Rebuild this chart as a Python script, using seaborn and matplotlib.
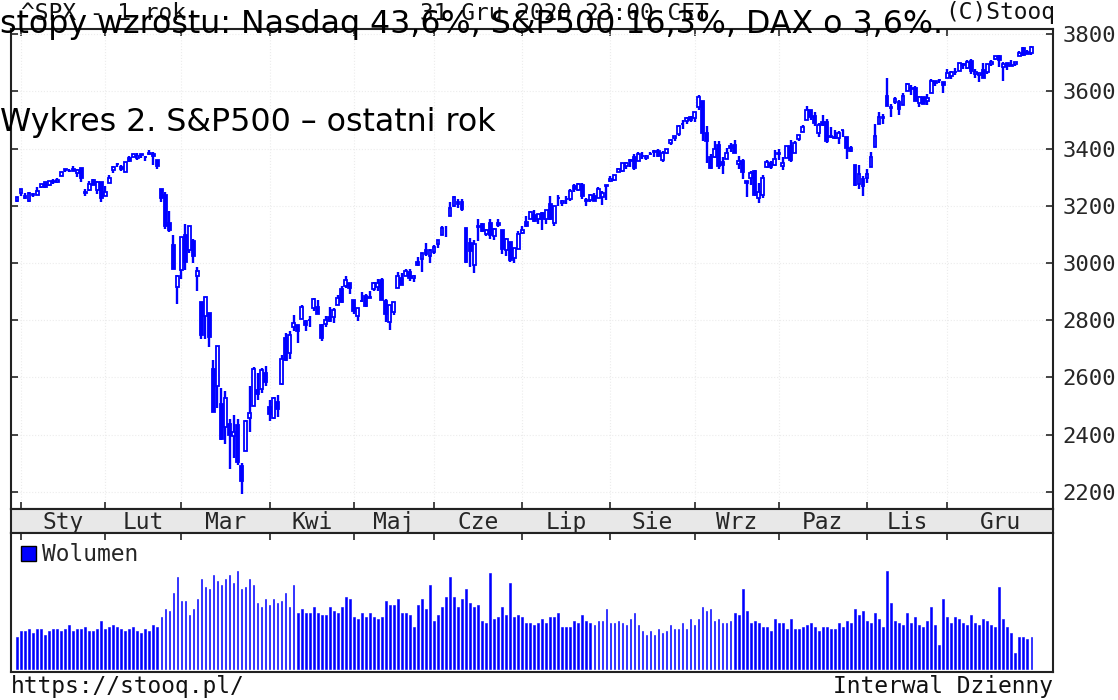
import numpy as np
import pandas as pd
import matplotlib
matplotlib.use("Agg")
import matplotlib.pyplot as plt
from matplotlib.patches import Patch
import seaborn as sns

# ^SPX daily sessions, 31 Dec 2019 .. 31 Dec 2020 (one row per month in each list)
sessions_per_month = [1, 21, 19, 22, 21, 20, 22, 22, 21, 21, 22, 20, 22]
month_labels = ["Sty", "Lut", "Mar", "Kwi", "Maj", "Cze", "Lip", "Sie", "Wrz", "Paz", "Lis", "Gru"]
price_ticks = [2200, 2400, 2600, 2800, 3000, 3200, 3400, 3600, 3800]

opens = [
    3215.18,
    3244.67, 3226.36, 3217.55, 3241.86, 3238.59, 3266.03, 3281.81, 3271.13, 3285.35, 3282.27, 3302.97, 3323.66, 3321.03, 3330.02, 3315.77, 3333.10, 3247.16, 3255.35, 3289.46, 3256.45, 3282.33,
    3235.66, 3280.61, 3324.91, 3344.92, 3335.54, 3318.28, 3365.87, 3370.50, 3365.90, 3378.08, 3369.04, 3380.39, 3380.45, 3360.50, 3257.61, 3238.94, 3139.90, 3062.54, 2916.90,
    2974.28, 3096.46, 3045.75, 3075.70, 2954.20, 2863.89, 2813.48, 2825.60, 2630.86, 2569.99, 2508.59, 2425.66, 2436.50, 2393.48, 2431.94, 2290.71, 2344.44, 2457.77, 2501.29, 2555.87, 2558.98, 2614.69,
    2498.08, 2458.54, 2514.92, 2578.28, 2738.65, 2685.00, 2776.99, 2782.46, 2805.10, 2795.64, 2799.34, 2842.43, 2845.62, 2784.81, 2787.89, 2810.42, 2812.64, 2854.65, 2909.96, 2918.46, 2930.91,
    2869.09, 2815.01, 2868.88, 2883.14, 2878.26, 2908.83, 2915.46, 2939.50, 2865.86, 2794.54, 2829.95, 2913.86, 2948.59, 2953.63, 2969.95, 2948.05, 3004.08, 3015.65, 3046.61, 3025.17,
    3038.78, 3064.78, 3098.90, 3111.56, 3163.84, 3199.92, 3213.32, 3213.42, 3123.53, 3071.04, 2993.76, 3131.00, 3136.13, 3101.64, 3140.29, 3094.42, 3138.70, 3114.40, 3046.60, 3073.20, 3018.59, 3050.20,
    3105.92, 3143.64, 3155.29, 3166.44, 3153.07, 3176.17, 3152.47, 3205.08, 3141.11, 3225.98, 3208.36, 3224.21, 3224.29, 3268.52, 3254.86, 3271.64, 3218.58, 3219.84, 3234.27, 3227.22, 3231.76, 3270.45,
    3288.26, 3289.92, 3317.37, 3323.17, 3340.05, 3356.04, 3370.34, 3355.46, 3372.95, 3368.66, 3380.86, 3387.04, 3392.51, 3360.48, 3386.01, 3418.09, 3435.95, 3449.97, 3485.14, 3494.69, 3509.73,
    3507.44, 3543.76, 3564.74, 3453.60, 3371.88, 3369.82, 3412.56, 3352.70, 3363.56, 3407.73, 3411.23, 3346.86, 3357.38, 3285.57, 3295.75, 3320.11, 3226.14, 3236.66, 3333.90, 3350.92, 3341.21,
    3385.87, 3338.94, 3367.27, 3408.74, 3384.56, 3434.28, 3459.67, 3500.02, 3534.01, 3515.47, 3453.72, 3493.50, 3493.66, 3439.38, 3439.91, 3438.50, 3464.90, 3441.42, 3403.15, 3342.48, 3277.17, 3293.59,
    3296.20, 3336.25, 3406.46, 3485.74, 3508.34, 3583.04, 3543.26, 3563.22, 3562.67, 3552.57, 3600.16, 3610.31, 3612.09, 3559.41, 3579.31, 3566.82, 3594.52, 3635.50, 3638.55, 3634.18,
    3645.87, 3653.78, 3668.28, 3670.94, 3694.73, 3683.05, 3705.98, 3659.13, 3656.08, 3675.27, 3666.41, 3696.25, 3713.65, 3722.39, 3684.28, 3698.08, 3693.42, 3694.03, 3723.03, 3750.01, 3736.19, 3733.27,
]

highs = [
    3231.72,
    3258.14, 3246.15, 3246.84, 3244.91, 3267.07, 3275.58, 3282.99, 3288.13, 3294.25, 3298.66, 3317.11, 3329.88, 3329.79, 3337.77, 3326.88, 3333.18, 3258.85, 3285.78, 3293.47, 3285.91, 3282.33,
    3268.44, 3306.92, 3337.58, 3347.96, 3341.42, 3352.26, 3375.63, 3381.47, 3385.09, 3380.69, 3375.01, 3393.52, 3389.15, 3360.76, 3259.81, 3246.99, 3182.51, 3097.07, 2959.72,
    3090.96, 3136.72, 3130.97, 3083.04, 2985.93, 2863.89, 2882.59, 2825.60, 2660.95, 2711.33, 2562.98, 2553.93, 2453.57, 2466.97, 2453.01, 2300.73, 2449.71, 2571.42, 2637.01, 2615.91, 2631.80, 2641.39,
    2522.75, 2533.22, 2538.18, 2676.85, 2756.89, 2760.75, 2818.57, 2782.46, 2851.85, 2801.88, 2815.10, 2879.22, 2868.98, 2785.54, 2815.10, 2844.90, 2842.71, 2887.72, 2921.15, 2954.86, 2930.91,
    2869.09, 2844.24, 2898.23, 2891.11, 2901.92, 2932.16, 2944.25, 2945.82, 2874.14, 2852.80, 2865.01, 2968.09, 2964.21, 2980.29, 2978.50, 2956.76, 3021.72, 3036.25, 3068.67, 3049.17,
    3062.18, 3081.07, 3130.94, 3128.91, 3211.72, 3233.13, 3222.71, 3223.27, 3123.53, 3088.42, 3079.76, 3153.45, 3141.16, 3120.00, 3155.53, 3120.92, 3154.90, 3115.01, 3086.25, 3073.73, 3053.89, 3111.51,
    3128.44, 3165.81, 3182.59, 3184.15, 3171.80, 3179.78, 3186.82, 3235.32, 3200.95, 3238.28, 3220.39, 3233.52, 3258.61, 3277.29, 3279.32, 3279.99, 3227.26, 3241.43, 3243.72, 3264.74, 3250.92, 3272.17,
    3302.73, 3306.84, 3330.77, 3351.03, 3352.54, 3363.29, 3381.01, 3387.89, 3387.24, 3378.51, 3387.59, 3395.06, 3399.54, 3390.80, 3399.96, 3432.09, 3444.21, 3481.07, 3501.38, 3509.23, 3514.77,
    3528.03, 3588.11, 3564.85, 3479.15, 3379.97, 3424.77, 3425.55, 3368.95, 3402.93, 3419.48, 3428.92, 3375.17, 3362.27, 3285.57, 3320.31, 3323.35, 3278.70, 3306.88, 3360.74, 3357.92, 3393.56,
    3397.18, 3369.10, 3409.57, 3431.56, 3426.26, 3447.28, 3482.34, 3549.85, 3534.01, 3527.94, 3489.08, 3515.76, 3502.42, 3476.93, 3464.86, 3460.53, 3466.46, 3441.42, 3409.51, 3342.48, 3341.05, 3304.93,
    3330.14, 3389.49, 3486.25, 3529.05, 3521.58, 3645.99, 3557.22, 3581.16, 3569.02, 3593.66, 3628.51, 3623.11, 3619.09, 3585.22, 3581.23, 3589.81, 3642.31, 3635.50, 3644.31, 3634.18,
    3678.45, 3670.96, 3682.73, 3699.20, 3697.41, 3708.45, 3712.39, 3678.49, 3665.91, 3697.61, 3695.29, 3711.27, 3725.12, 3726.70, 3702.90, 3698.26, 3711.24, 3703.82, 3740.51, 3756.12, 3744.63, 3760.20,
]

lows = [
    3212.03,
    3235.53, 3222.34, 3214.64, 3232.43, 3236.67, 3263.67, 3260.86, 3268.43, 3277.19, 3280.69, 3302.82, 3318.86, 3316.61, 3320.04, 3301.87, 3281.53, 3234.50, 3253.22, 3271.89, 3242.80, 3214.68,
    3235.66, 3280.61, 3313.75, 3334.39, 3322.12, 3317.77, 3352.72, 3369.72, 3360.52, 3366.15, 3355.61, 3378.83, 3341.02, 3328.45, 3214.65, 3118.77, 3108.99, 2977.39, 2855.84,
    2945.19, 2976.63, 3034.38, 2999.83, 2901.54, 2734.43, 2734.00, 2707.22, 2478.86, 2492.37, 2380.94, 2367.04, 2280.52, 2319.78, 2295.56, 2191.86, 2344.44, 2407.53, 2500.72, 2520.02, 2545.28, 2571.15,
    2447.49, 2455.79, 2459.96, 2574.57, 2657.67, 2663.30, 2762.36, 2721.17, 2805.10, 2761.54, 2775.95, 2830.88, 2820.43, 2727.10, 2775.95, 2794.26, 2791.76, 2852.89, 2860.71, 2912.16, 2892.47,
    2821.61, 2797.85, 2863.55, 2847.65, 2876.48, 2902.88, 2903.44, 2869.59, 2793.15, 2766.64, 2816.78, 2913.86, 2922.35, 2953.63, 2938.57, 2933.59, 2988.17, 2969.75, 3023.40, 2998.61,
    3031.54, 3051.64, 3098.90, 3090.41, 3163.84, 3196.00, 3193.11, 3181.49, 2999.49, 2984.47, 2965.66, 3076.06, 3108.03, 3093.51, 3083.11, 3079.39, 3127.12, 3032.13, 3024.01, 3004.63, 2999.74, 3047.83,
    3101.17, 3124.52, 3155.29, 3142.93, 3136.53, 3115.70, 3136.22, 3149.43, 3127.66, 3200.76, 3198.59, 3205.65, 3215.16, 3247.77, 3253.10, 3222.66, 3200.05, 3214.25, 3216.17, 3227.22, 3204.13, 3220.26,
    3284.53, 3286.37, 3317.37, 3318.14, 3328.72, 3335.44, 3326.44, 3355.46, 3363.35, 3361.64, 3379.22, 3370.15, 3369.66, 3354.69, 3379.31, 3413.13, 3425.84, 3444.15, 3468.35, 3484.32, 3493.25,
    3494.60, 3535.23, 3427.41, 3349.63, 3329.27, 3366.84, 3329.25, 3310.47, 3363.56, 3389.25, 3384.45, 3328.82, 3292.40, 3229.10, 3270.95, 3232.57, 3209.45, 3228.44, 3332.91, 3327.54, 3340.47,
    3361.39, 3323.69, 3367.27, 3354.54, 3384.56, 3428.15, 3458.07, 3499.61, 3500.86, 3480.55, 3440.89, 3480.45, 3419.93, 3435.65, 3433.06, 3415.34, 3440.45, 3364.86, 3388.71, 3268.89, 3259.82, 3233.94,
    3279.74, 3336.25, 3405.17, 3485.74, 3484.34, 3547.48, 3511.91, 3557.00, 3518.58, 3552.57, 3600.16, 3588.68, 3567.33, 3543.84, 3556.85, 3552.77, 3594.52, 3617.76, 3629.33, 3594.39,
    3645.87, 3644.84, 3657.17, 3670.94, 3678.88, 3678.83, 3660.54, 3645.18, 3633.40, 3645.84, 3659.62, 3688.57, 3710.87, 3685.84, 3636.48, 3676.16, 3689.28, 3689.32, 3723.03, 3723.31, 3730.21, 3726.88,
]

closes = [
    3230.78,
    3257.85, 3234.85, 3246.28, 3237.18, 3253.05, 3274.70, 3265.35, 3288.13, 3283.15, 3289.29, 3316.81, 3329.62, 3320.79, 3321.75, 3325.54, 3295.47, 3243.63, 3276.24, 3273.40, 3283.66, 3225.52,
    3248.92, 3297.59, 3334.69, 3345.78, 3327.71, 3352.09, 3357.75, 3379.45, 3373.94, 3380.16, 3370.29, 3386.15, 3373.23, 3337.75, 3225.89, 3128.21, 3116.39, 2978.76, 2954.22,
    3090.23, 3003.37, 3130.12, 3023.94, 2972.37, 2746.56, 2882.23, 2741.38, 2480.64, 2711.02, 2386.13, 2529.19, 2398.10, 2409.39, 2304.92, 2237.40, 2447.33, 2475.56, 2630.07, 2541.47, 2626.65, 2584.59,
    2470.50, 2526.90, 2488.65, 2663.68, 2659.41, 2749.98, 2789.82, 2761.63, 2846.06, 2783.36, 2799.55, 2874.56, 2823.16, 2736.56, 2799.31, 2797.80, 2836.74, 2878.48, 2863.39, 2939.51, 2912.43,
    2830.71, 2842.74, 2868.44, 2848.42, 2881.19, 2929.80, 2930.32, 2870.12, 2820.00, 2852.50, 2863.70, 2953.91, 2922.94, 2971.61, 2948.51, 2955.45, 2991.77, 3036.13, 3029.73, 3044.31,
    3055.73, 3080.82, 3122.87, 3112.35, 3193.93, 3232.39, 3207.18, 3190.14, 3002.10, 3041.31, 3066.59, 3124.74, 3113.49, 3115.34, 3097.74, 3117.86, 3131.29, 3050.33, 3083.76, 3009.05, 3053.24, 3100.29,
    3115.86, 3130.01, 3179.72, 3145.32, 3169.94, 3152.05, 3185.04, 3155.22, 3197.52, 3226.56, 3215.57, 3224.73, 3251.84, 3257.30, 3276.02, 3235.66, 3215.63, 3239.41, 3218.44, 3258.44, 3246.22, 3271.12,
    3294.61, 3306.51, 3327.77, 3349.16, 3351.28, 3360.47, 3333.69, 3380.35, 3373.43, 3372.85, 3381.99, 3389.78, 3374.85, 3385.51, 3397.16, 3431.28, 3443.62, 3478.73, 3484.55, 3508.01, 3500.31,
    3526.65, 3580.84, 3455.06, 3426.96, 3331.84, 3398.96, 3339.19, 3340.97, 3383.54, 3401.20, 3385.49, 3357.01, 3319.47, 3281.06, 3315.57, 3236.92, 3246.59, 3298.46, 3351.60, 3335.47, 3363.00,
    3380.80, 3348.42, 3408.60, 3360.97, 3419.44, 3446.83, 3477.14, 3534.22, 3511.93, 3488.67, 3483.34, 3483.81, 3426.92, 3443.12, 3435.56, 3453.49, 3465.39, 3400.97, 3390.68, 3271.03, 3310.11, 3269.96,
    3310.24, 3369.16, 3443.44, 3510.45, 3509.44, 3550.50, 3545.53, 3572.66, 3537.01, 3585.15, 3626.91, 3609.53, 3567.79, 3581.87, 3557.54, 3577.59, 3635.41, 3629.65, 3638.35, 3621.63,
    3662.45, 3669.01, 3666.72, 3699.12, 3691.96, 3702.25, 3672.82, 3668.10, 3663.46, 3647.49, 3694.62, 3701.17, 3722.48, 3709.41, 3694.92, 3687.26, 3690.01, 3703.06, 3735.36, 3727.04, 3732.04, 3756.07,
]

# volume, relative units
volumes = [
    96,
    114, 114, 120, 108, 120, 120, 102, 114, 120, 120, 114, 120, 132, 114, 120, 120, 126, 114, 114, 120, 144,
    120, 126, 132, 126, 120, 114, 120, 126, 114, 108, 120, 114, 132, 126, 156, 180, 174, 228, 276,
    204, 204, 162, 180, 210, 270, 246, 240, 282, 264, 252, 270, 282, 258, 294, 240, 246, 270, 252, 198, 186, 210,
    192, 210, 198, 204, 228, 186, 252, 168, 180, 168, 168, 186, 168, 162, 162, 186, 174, 168, 186, 216, 210,
    156, 150, 168, 156, 168, 156, 150, 156, 204, 192, 192, 210, 168, 168, 162, 126, 192, 210, 180, 252,
    144, 162, 186, 216, 276, 216, 186, 210, 240, 198, 186, 192, 144, 138, 288, 150, 156, 186, 162, 258, 156, 162,
    156, 138, 138, 132, 138, 150, 138, 156, 156, 168, 126, 126, 126, 144, 138, 162, 144, 138, 132, 144, 144, 180,
    138, 138, 144, 138, 132, 150, 168, 132, 114, 102, 114, 102, 120, 108, 114, 132, 120, 120, 138, 120, 150,
    132, 150, 186, 174, 180, 144, 150, 138, 138, 144, 168, 162, 240, 174, 138, 144, 138, 126, 126, 114, 150,
    138, 138, 120, 150, 120, 120, 126, 132, 138, 126, 114, 126, 126, 120, 120, 138, 126, 144, 138, 180, 162, 174,
    144, 138, 168, 150, 126, 294, 198, 144, 138, 132, 168, 138, 156, 132, 126, 144, 186, 132, 72, 210,
    156, 138, 156, 150, 138, 132, 162, 138, 132, 150, 144, 132, 126, 246, 150, 126, 108, 48, 96, 96, 90, 96,
]

BLUE = "#0000ff"
W, H = 1118, 700

assert len(opens) == len(highs) == len(lows) == len(closes) == len(volumes) == sum(sessions_per_month)

df = pd.DataFrame({"open": opens, "high": highs, "low": lows, "close": closes, "volume": volumes})
df["session"] = np.arange(len(df))
df["up"] = df["close"] >= df["open"]

month_starts = np.cumsum(sessions_per_month)[:-1]
x_min, x_max = -1.5, 258.4
label_pos = [(a + b) / 2 for a, b in zip(month_starts, list(month_starts[1:]) + [x_max])]

sns.set_style("white")
plt.rcParams["font.family"] = ["DejaVu Sans Mono"]
plt.rcParams["axes.linewidth"] = 1.5
plt.rcParams["axes.edgecolor"] = "#222222"


def box(x0, y0, x1, y1):
    """pixel box (top-left origin) -> figure fraction rect"""
    return [x0 / W, 1 - y1 / H, (x1 - x0) / W, (y1 - y0) / H]


fig = plt.figure(figsize=(W / 100, H / 100), dpi=100)
ax = fig.add_axes(box(11, 29, 1053, 509))
strip = fig.add_axes(box(11, 509, 1053, 533))
axv = fig.add_axes(box(11, 533, 1053, 671.5))

# price panel: candles (hollow = up day, filled = down day)
ax.vlines(df["session"], df["low"], df["high"], color=BLUE, lw=1.7, zorder=2)
up = df[df["up"]]
down = df[~df["up"]]
ax.bar(up["session"], up["close"] - up["open"], bottom=up["open"], width=0.72,
       facecolor="white", edgecolor=BLUE, lw=1.3, zorder=3)
ax.bar(down["session"], down["open"] - down["close"], bottom=down["close"], width=0.72,
       facecolor=BLUE, edgecolor=BLUE, lw=1.3, zorder=3)

ax.set_xlim(x_min, x_max)
ax.set_ylim(2140, 3818)
ax.set_yticks(price_ticks)
ax.set_xticks(month_starts)
ax.set_xticklabels([])
ax.grid(True, color="#ececec", ls=":", lw=0.8)
ax.tick_params(axis="y", left=True, right=True, labelleft=False, labelright=True,
               direction="in", length=5, width=1.2, labelsize=16, pad=7)
ax.tick_params(axis="x", top=True, bottom=True, direction="in", length=5, width=1.2)
ax.set_xlabel("")
ax.set_ylabel("")

# month strip
strip.set_facecolor("#e8e8e8")
strip.set_xlim(x_min, x_max)
strip.set_ylim(0, 1)
strip.set_xticks([])
strip.set_yticks([])
for pos, lab in zip(label_pos, month_labels):
    strip.text(pos, 0.45, lab, ha="center", va="center", fontsize=16.5)

# volume panel
sns.barplot(data=df, x="session", y="volume", native_scale=True, color=BLUE, saturation=1,
            width=0.42, edgecolor=BLUE, linewidth=0.4, errorbar=None, ax=axv)
axv.set_xlim(x_min, x_max)
axv.set_ylim(-9, 407)
axv.set_xticks(month_starts)
axv.set_xticklabels([])
axv.set_yticks([])
axv.set_xlabel("")
axv.set_ylabel("")
axv.tick_params(axis="x", top=True, bottom=False, direction="in", length=5, width=1.2)
axv.legend(handles=[Patch(facecolor=BLUE, edgecolor="black", lw=1)], labels=["Wolumen"],
           loc="upper left", bbox_to_anchor=(0.0, 1.0), frameon=False, fontsize=16.5,
           handlelength=0.62, handleheight=0.62, handletextpad=0.3, borderpad=0.25,
           borderaxespad=0.2)

# stooq header / footer
mono = dict(fontsize=16.5, va="center", color="#111111")
fig.text(21 / W, 1 - 13 / H, "^SPX - 1 rok", ha="left", **mono)
fig.text(564 / W, 1 - 13 / H, "31 Gru 2020 23:00 CET", ha="center", **mono)
fig.text(1055 / W, 1 - 13 / H, "(C)Stooq", ha="right", **mono)
fig.text(11 / W, 1 - 686 / H, "https://stooq.pl/", ha="left", **mono)
fig.text(1053 / W, 1 - 686 / H, "Interwal Dzienny", ha="right", **mono)

# article captions laid over the chart
fig.text(0, 1 - 33 / H, "stopy wzrostu: Nasdaq 43,6%, S&P500 16,3%, DAX o 3,6%.",
         family="DejaVu Sans", fontsize=22.75, ha="left", va="baseline", color="black")
fig.text(0, 1 - 131 / H, "Wykres 2. S&P500 – ostatni rok",
         family="DejaVu Sans", fontsize=22.75, ha="left", va="baseline", color="black")

fig.savefig("out.png", dpi=100)
